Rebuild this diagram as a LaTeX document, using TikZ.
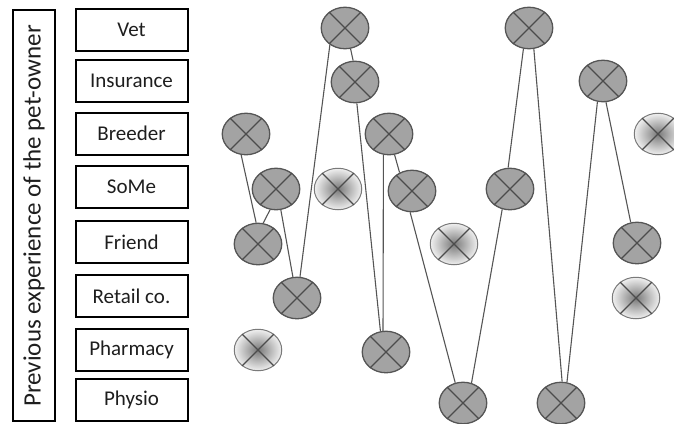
\documentclass[tikz,border=0pt]{standalone}
\usepackage{fontspec}
\setmainfont{Carlito}
\usetikzlibrary{shapes.geometric}
\definecolor{darkfill}{HTML}{A3A3A3}
\definecolor{darkline}{HTML}{555555}
\definecolor{lightline}{HTML}{7A7A7A}
\definecolor{txt}{HTML}{1E1E1E}
\tikzset{
  x=1pt, y=-1pt,
  labelbox/.style={draw=black, line width=2pt, minimum width=112pt, minimum height=42pt,
    inner sep=0pt, font=\fontsize{21}{21}\selectfont, text=txt},
  dnode/.style={ellipse, draw=darkline, line width=1.3pt, fill=darkfill,
    minimum width=47.5pt, minimum height=41.5pt, inner sep=0pt},
  lnode/.style={ellipse, draw=lightline, line width=1pt, inner color=gray!95!black, outer color=white!94!black,
    minimum width=47.5pt, minimum height=41.5pt, inner sep=0pt},
  xline/.style={draw=darkline!90!black, line width=1.3pt},
  conn/.style={draw=darkline, line width=1.1pt},
}
\newcommand{\crossit}[1]{\draw[xline] (#1.45)--(#1.225) (#1.135)--(#1.315);}
\begin{document}
\begin{tikzpicture}
\useasboundingbox (0,0) rectangle (674,423);
% side label
\node[draw=black, line width=2pt, minimum width=42pt, minimum height=411pt, inner sep=0pt] (side) at (34,215.5) {};
\node[rotate=90, font=\fontsize{25}{25}\selectfont, text=txt] (sidetxt) at (34,216) {Previous experience of the pet-owner};
% category boxes
\node[labelbox] (vet) at (131.5,30) {Vet};
\node[labelbox] (ins) at (131.5,81) {Insurance};
\node[labelbox] (bre) at (131.5,133.5) {Breeder};
\node[labelbox] (some) at (131.5,187) {SoMe};
\node[labelbox] (fri) at (131.5,242) {Friend};
\node[labelbox] (ret) at (131.5,296) {Retail co.};
\node[labelbox] (pha) at (131.5,350) {Pharmacy};
\node[labelbox] (phy) at (131.5,400) {Physio};
% ellipse nodes
\node[dnode] (A) at (345,28) {};
\node[dnode] (B) at (355,82) {};
\node[dnode] (C) at (246,134) {};
\node[dnode] (D) at (389,134) {};
\node[dnode] (E) at (276,189) {};
\node[lnode] (F) at (338,189) {};
\node[dnode] (G) at (412,191) {};
\node[dnode] (H) at (258,244) {};
\node[lnode] (I) at (454,244) {};
\node[dnode] (J) at (297,298) {};
\node[lnode] (K) at (258,350) {};
\node[dnode] (L) at (386,352) {};
\node[dnode] (M) at (463,403) {};
\node[dnode] (N) at (529,28) {};
\node[dnode] (O) at (510,189) {};
\node[dnode] (P) at (561,403) {};
\node[dnode] (Q) at (603,81) {};
\node[lnode] (R) at (658,134) {};
\node[dnode] (S) at (637,243) {};
\node[lnode] (T) at (636,298) {};
\foreach \n in {A,B,C,D,E,F,G,H,I,J,K,L,M,N,O,P,Q,R,S,T}{\crossit{\n}}
% connectors
\draw[conn] (A.285) -- (B.95);
\draw[conn] (A.228) -- (J.82);
\draw[conn] (C.257) -- (H.95);
\draw[conn] (E.254) -- (H.76);
\draw[conn] (E.283) -- (J.101);
\draw[conn] (D.255) -- (L.98);
\draw[conn] (B.275) -- (L.105);
\draw[conn] (D.285) -- (G.124);
\draw[conn] (G.265) -- (M.111);
\draw[conn] (M.67) -- (O.249);
\draw[conn] (O.95) -- (N.255);
\draw[conn] (N.283) -- (P.87);
\draw[conn] (Q.255) -- (P.74);
\draw[conn] (Q.278) -- (S.107);
\end{tikzpicture}
\end{document}
